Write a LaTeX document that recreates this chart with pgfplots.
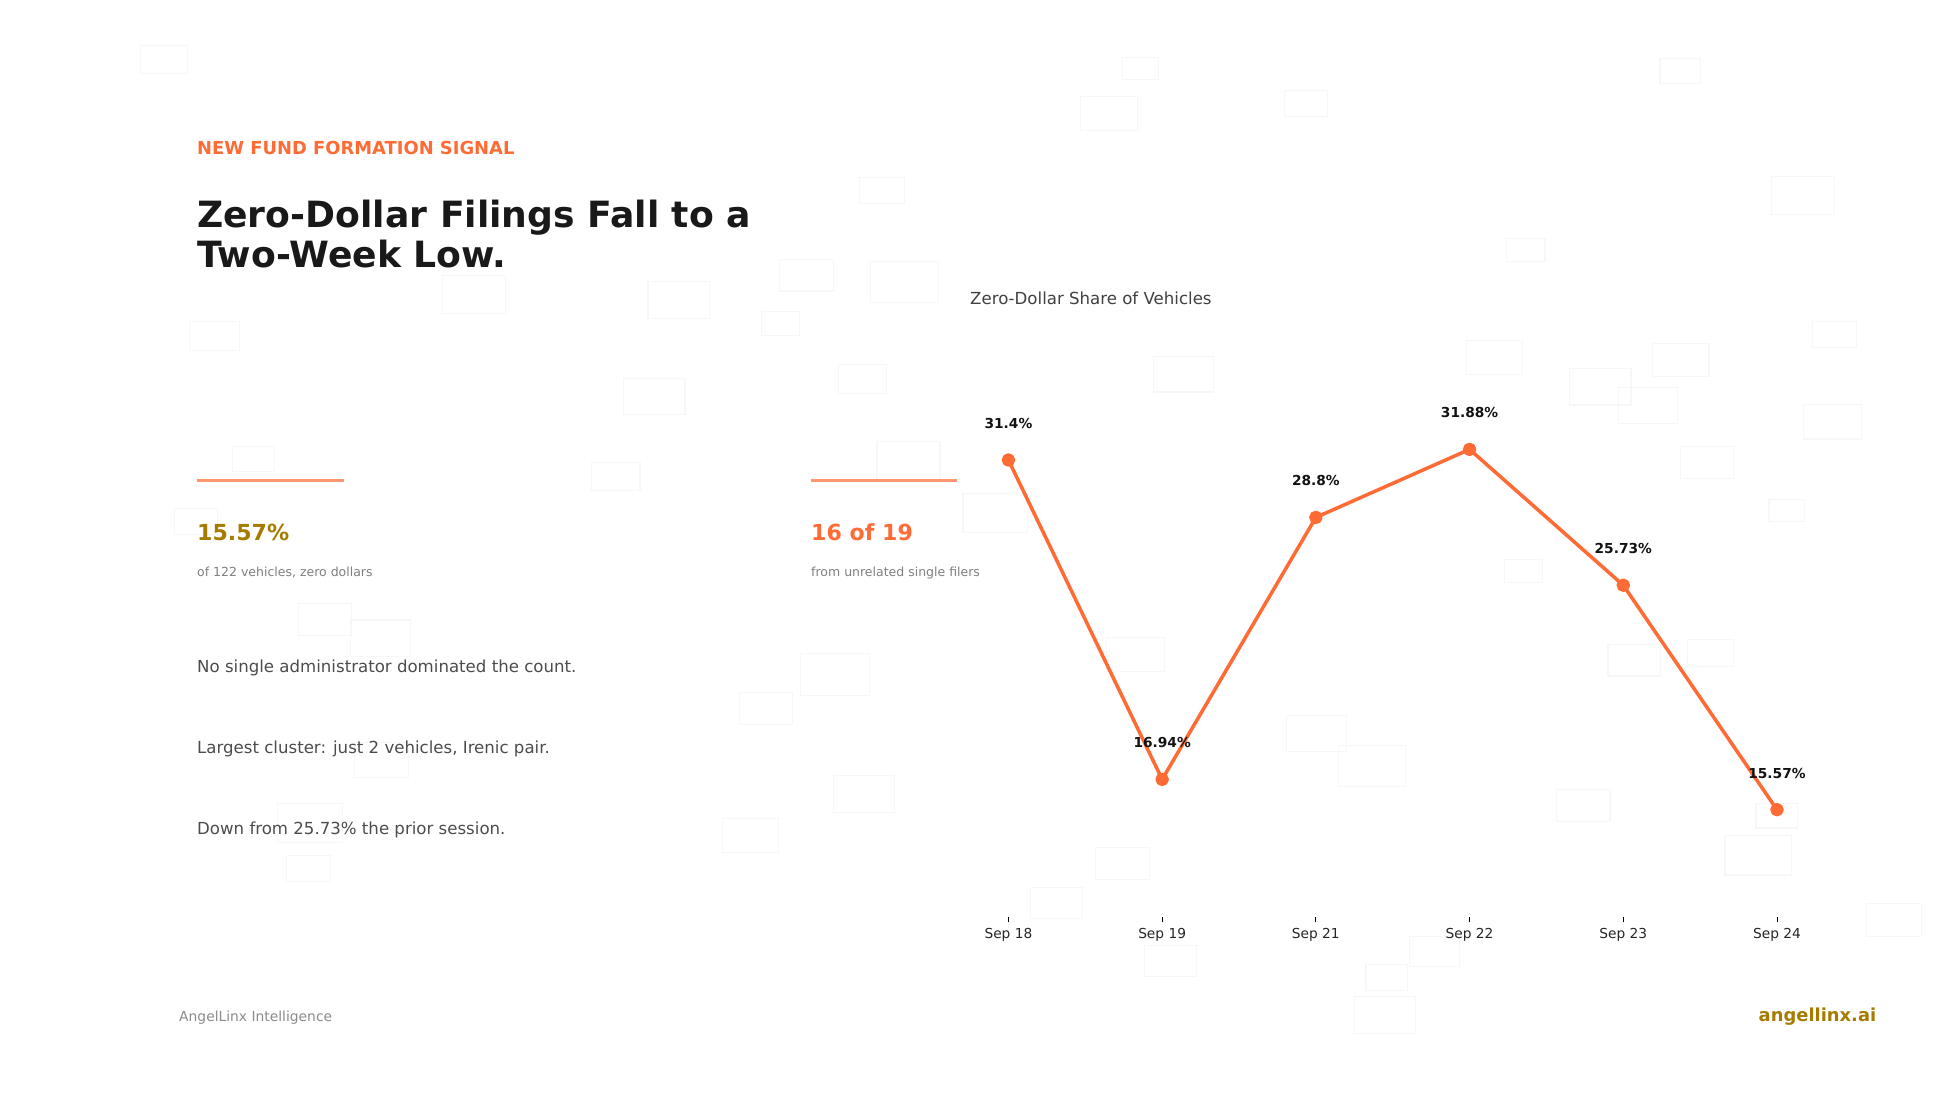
\documentclass[border=0pt]{standalone}
\usepackage{fontspec}
\setmainfont{DejaVu Sans}
\usepackage{pgfplots}
\pgfplotsset{compat=1.18}
\definecolor{orange1}{HTML}{FF6B35}
\definecolor{rulec}{HTML}{FF9670}
\definecolor{gold1}{HTML}{A67C00}
\definecolor{rectc}{HTML}{F7F7F7}
\newcommand{\fs}[1]{\fontsize{#1}{#1}\selectfont}
\begin{document}
\begin{tikzpicture}[x=1pt,y=1pt]
\path[use as bounding box] (0,0) rectangle (1940,1100);
\fill[white] (0,0) rectangle (1940,1100);
% faint background rectangles
\foreach \ox/\oy/\a/\b/\c/\d in {
0/0/227/129/303/210,0/0/1389/506/1462/580,0/0/1260/740/1347/830,0/0/1407/745/1517/862,
0/0/715/786/817/893,0/0/1047/802/1147/908,0/0/1230/888/1292/956,0/0/306/916/387/999,
0/0/1008/1079/1107/1181,0/0/1355/1039/1433/1121,0/0/376/1273/444/1344,0/0/956/1318/1034/1398,
0/0/1417/1258/1519/1370,0/0/282/1449/351/1523,0/0/1556/1406/1660/1518,
970/0/246/164/305/227,970/0/178/275/271/372,970/0/508/258/578/332,970/0/1115/167/1181/238,
970/0/1295/503/1397/611,970/0/867/680/929/745,970/0/1362/916/1433/990,970/0/802/970/893/1067,
970/0/1103/979/1194/1073,970/0/969/1050/1068/1155,970/0/1048/1104/1143/1207,970/0/296/1016/393/1118,
970/0/1347/1153/1441/1252,970/0/1148/1273/1234/1364,970/0/1291/1424/1349/1486,
0/550/482/152/568/243,0/550/566/200/663/303,0/550/1294/295/1405/414,0/550/1195/406/1281/497,
0/550/573/548/660/649,0/550/1347/642/1446/748,0/550/448/722/553/833,0/550/1167/765/1258/862,
0/550/463/871/534/945,
970/550/864/27/925/92,970/550/1031/269/1116/359,970/550/1160/255/1234/332,970/550/220/249/314/346,
970/550/511/471/608/574,970/550/596/558/704/674,970/550/948/683/1034/774,970/550/1270/722/1337/793,
970/550/1220/814/1328/927,970/550/203/848/290/939,970/550/98/962/182/1050,970/550/1449/1007/1538/1101,
970/550/282/1127/366/1215,970/550/710/1101/791/1187,970/550/640/1181/707/1255,970/550/621/1273/720/1378}
{\draw[rectc,line width=1.3pt] ({\ox+\a/1.616},{1100-\oy-\b/2.851}) rectangle ({\ox+\c/1.616},{1100-\oy-\d/2.851});}
% left-hand text
\node[anchor=base west,inner sep=0,text=orange1,font=\fs{17.9}\bfseries] at (197,945.2) {NEW FUND FORMATION SIGNAL};
\node[anchor=base west,inner sep=0,text=black!90,font=\fs{36.15}\bfseries] at (197,872.3) {Zero-Dollar Filings Fall to a};
\node[anchor=base west,inner sep=0,text=black!90,font=\fs{36.15}\bfseries] at (197,832.3) {Two-Week Low.};
\draw[rulec,line width=2.6pt] (196.5,619.5) -- (343.5,619.5);
\draw[rulec,line width=2.6pt] (810.5,619.5) -- (957,619.5);
\node[anchor=base west,inner sep=0,text=gold1,font=\fs{22.1}\bfseries] at (197,559) {15.57\%};
\node[anchor=base west,inner sep=0,text=orange1,font=\fs{22.1}\bfseries] at (811,559) {16 of 19};
\node[anchor=base west,inner sep=0,text=black!50,font=\fs{12.5}] at (197,523) {of 122 vehicles, zero dollars};
\node[anchor=base west,inner sep=0,text=black!50,font=\fs{12.5}] at (811,523) {from unrelated single filers};
\node[anchor=base west,inner sep=0,text=black!70,font=\fs{16.6}] at (197,427.1) {No single administrator dominated the count.};
\node[anchor=base west,inner sep=0,text=black!70,font=\fs{16.6}] at (197,346.1) {Largest cluster: just 2 vehicles, Irenic pair.};
\node[anchor=base west,inner sep=0,text=black!70,font=\fs{16.6}] at (197,265.4) {Down from 25.73\% the prior session.};
\node[anchor=base west,inner sep=0,text=black!45,font=\fs{13.85}] at (179,78) {AngelLinx Intelligence};
\node[anchor=base west,inner sep=0,text=gold1,font=\fs{17.9}\bfseries] at (1758.5,78.3) {angellinx.ai};
% chart
\begin{axis}[
  at={(970pt,183pt)},anchor=south west,
  scale only axis,width=845.4pt,height=567pt,
  xmin=-0.25,xmax=5.25,ymin=10.71,ymax=36.38,
  axis x line=bottom,axis y line=none,
  x axis line style={draw=none,-},
  xtick={0,1,2,3,4,5},
  xticklabels={Sep 18,Sep 19,Sep 21,Sep 22,Sep 23,Sep 24},
  xtick style={black,line width=0.9pt},
  major tick length=5.5pt,tick align=outside,
  xticklabel style={font=\fs{13.75},text=black!85,inner sep=0pt,yshift=-5.5pt},
  title={Zero-Dollar Share of Vehicles},
  title style={at={(0,1)},anchor=base west,inner sep=0,yshift=39pt,font=\fs{16.6},text=black!75},
  clip=false,
]
\addplot[orange1,line width=3.5pt,line join=round,mark=*,mark size=5pt,
  mark options={fill=orange1,draw=none},
  point meta=explicit symbolic,
  nodes near coords,
  every node near coord/.append style={font=\fs{13.75}\bfseries,text=black!93,anchor=center,yshift=36.5pt,inner sep=0},
] coordinates {
 (0,31.4) [31.4\%]
 (1,16.94) [16.94\%]
 (2,28.8) [28.8\%]
 (3,31.88) [31.88\%]
 (4,25.73) [25.73\%]
 (5,15.57) [15.57\%]
};
\end{axis}
\end{tikzpicture}
\end{document}
